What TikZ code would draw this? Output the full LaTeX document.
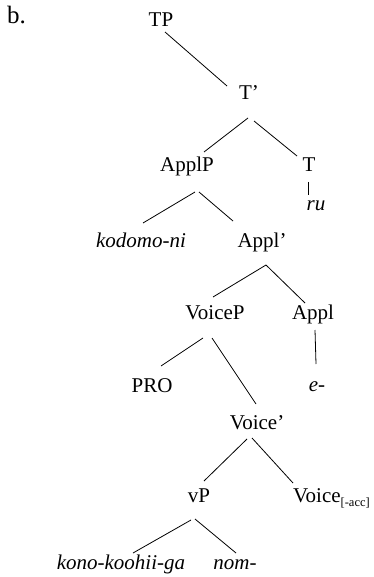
\documentclass[tikz,border=0pt]{standalone}
\usepackage{fontspec}
\setmainfont{Liberation Serif}
\usetikzlibrary{calc}
\begin{document}
\begin{tikzpicture}[x=1pt,y=-1pt,
  lab/.style={anchor=base,inner sep=0pt,font=\fontsize{21}{25}\selectfont},
  itlab/.style={lab,font=\fontsize{21}{25}\selectfont\itshape},
  branch/.style={line width=0.8pt,black}]
\useasboundingbox (0,0) rectangle (373,577);

% example label
\node[anchor=base west,inner sep=0pt,font=\fontsize{25}{29}\selectfont] (ex) at (7,24) {b.};

% tree nodes
\node[lab] (TP) at (161,27) {TP};
\node[lab] (Tb) at (249,100) {T’};
\node[lab] (ApplP) at (187,172) {ApplP};
\node[lab] (T) at (309,172) {T};
\node[itlab] (ru) at (316,210) {ru};
\node[itlab] (kodomo) at (141,247) {kodomo-ni};
\node[lab] (Applb) at (262,247) {Appl’};
\node[lab] (VoiceP) at (215,319) {VoiceP};
\node[lab] (Appl) at (313,319) {Appl};
\node[itlab] (e) at (317,391) {e-};
\node[lab] (PRO) at (152,392) {PRO};
\node[lab] (Voiceb) at (257,429) {Voice’};
\node[lab] (vP) at (199,502) {vP};
\node[lab,anchor=base west] (Voice) at (293,502) {Voice\raisebox{-4pt}{\fontsize{12.5}{14}\selectfont[-acc]}};
\node[itlab] (kono) at (121,569) {kono-koohii-ga};
\node[itlab] (nom) at (235,569) {nom-};

% branches
\draw[branch] ($(TP.base)+(4,5)$) -- ($(Tb.base)+(-22,-14)$);
\draw[branch] ($(Tb.base)+(-1,18)$) -- ($(ApplP.base)+(17,-20)$);
\draw[branch] ($(Tb.base)+(5,21)$) -- ($(T.base)+(-12,-16)$);
\draw[branch] ($(T.base)+(-1,10)$) -- ($(ru.base)+(-8,-15)$);
\draw[branch] ($(ApplP.base)+(8,20)$) -- ($(kodomo.base)+(2,-24)$);
\draw[branch] ($(ApplP.base)+(12,20)$) -- ($(Applb.base)+(-29,-26)$);
\draw[branch] ($(Applb.base)+(4,18)$) -- ($(VoiceP.base)+(-2,-22)$);
\draw[branch] ($(Applb.base)+(4,18)$) -- ($(Appl.base)+(-8,-16)$);
\draw[branch] ($(Appl.base)+(2,11)$) -- ($(e.base)+(-1,-27)$);
\draw[branch] ($(VoiceP.base)+(-12,19)$) -- ($(PRO.base)+(9,-26)$);
\draw[branch] ($(VoiceP.base)+(-3,19)$) -- ($(Voiceb.base)+(-1,-25)$);
\draw[branch] ($(Voiceb.base)+(-10,10)$) -- ($(vP.base)+(5,-21)$);
\draw[branch] ($(Voiceb.base)+(-5,9)$) -- ($(Voice.base west)+(0,-19)$);
\draw[branch] ($(vP.base)+(-8,18)$) -- ($(kono.base)+(12,-16)$);
\draw[branch] ($(vP.base)+(-4,17)$) -- ($(nom.base)+(1,-16)$);
\end{tikzpicture}
\end{document}
